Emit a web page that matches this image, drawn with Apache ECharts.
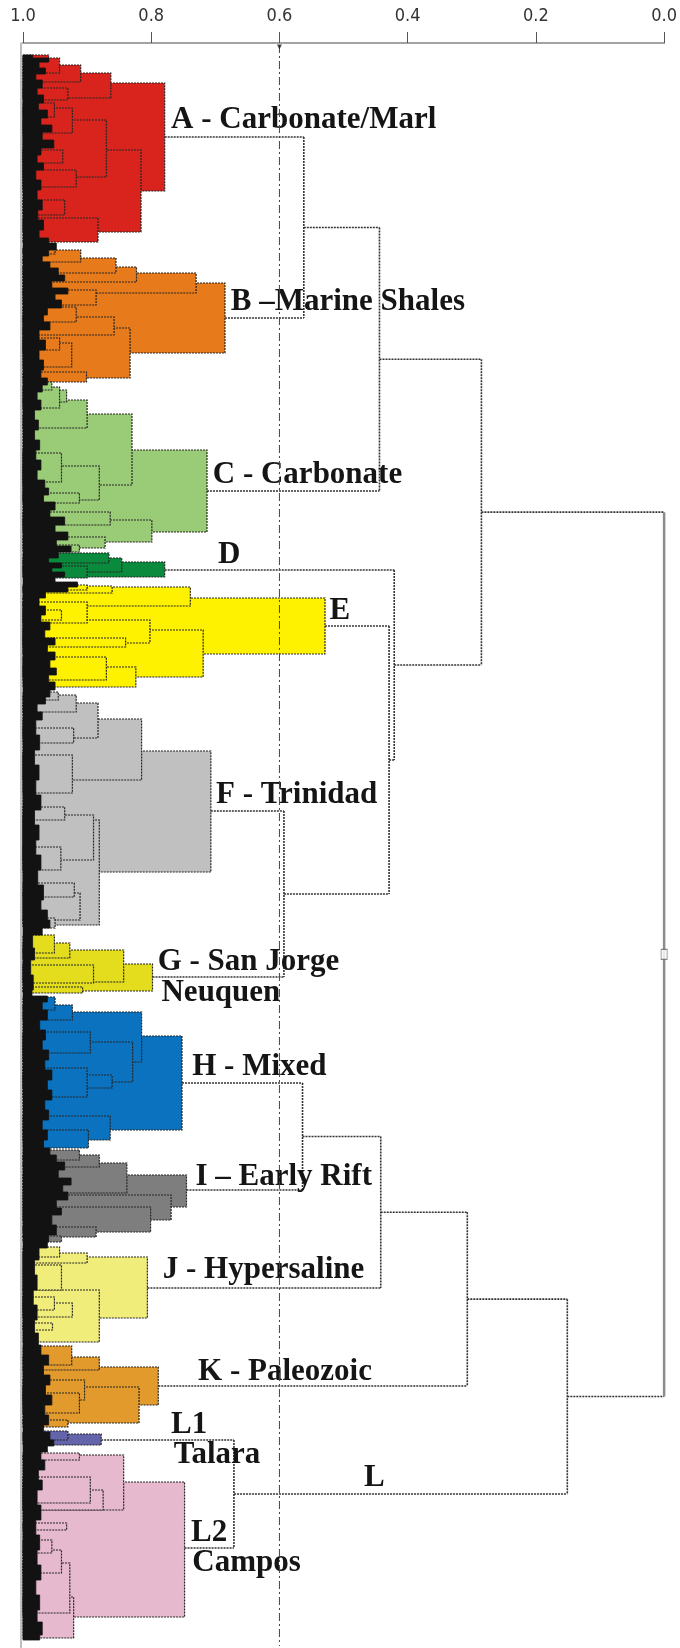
<!DOCTYPE html>
<html><head><meta charset="utf-8">
<script src="https://cdn.jsdelivr.net/npm/echarts@6/dist/echarts.min.js"></script>
<style>html,body{margin:0;padding:0;background:#fff}#c{width:680px;height:1648px}</style>
</head><body><div id="c"></div>
<script>
// ---- axis ----
const tickLabels = ['0.0', '0.2', '0.4', '0.6', '0.8', '1.0'];
const cutLevel = 0.6;

// ---- major clusters: name, colour, leaf-order position of the node, similarity of the node ----
const clusterNames = ['A', 'B', 'C', 'D', 'E', 'F', 'G', 'H', 'I', 'J', 'K', 'L1', 'L2'];
const clusterColors = ['#D8241C', '#E77A1A', '#9ACB77', '#0A8A3C', '#FFF200', '#C0C0C0', '#E3DD1E',
                       '#0B72C0', '#7E7E7E', '#F1ED7B', '#E39A2D', '#6464AA', '#E7B9CF'];
const clusterCenters = [137, 318, 491, 570, 626, 811, 977, 1083, 1190, 1288, 1386, 1440, 1548];
const clusterHeights = [0.779, 0.685, 0.713, 0.779, 0.529, 0.707, 0.798, 0.752, 0.745, 0.806, 0.789, 0.878, 0.748];

// ---- upper tree merges ----
const mergeNames  = ['AB', 'ABC', 'FG', 'EFG', 'DEFG', 'ABCDEFG', 'HI', 'HIJ', 'HIJK', 'L', 'HIJKL', 'root'];
const mergeLeft   = ['A', 'AB', 'F', 'E', 'D', 'ABC', 'H', 'HI', 'HIJ', 'L1', 'HIJK', 'ABCDEFG'];
const mergeRight  = ['B', 'C', 'G', 'FG', 'EFG', 'DEFG', 'I', 'J', 'K', 'L2', 'L', 'HIJKL'];
const mergeHeights = [0.562, 0.444, 0.593, 0.429, 0.421, 0.285, 0.564, 0.442, 0.307, 0.671, 0.151, 0.0];

// ---- sub-nodes inside each cluster: [first leaf pos, last leaf pos, similarity] ----
const subA = [[83,191,0.779],[73,98,0.863],[65,82,0.910],[58,73,0.943],[150,232,0.816],[120,177,0.870],[108,133,0.923],[218,242,0.883],[170,187,0.917],[150,163,0.938],[103,117,0.951],[200,215,0.935],[88,100,0.930],[55,62,0.960]];
const subB = [[283,353,0.685],[273,293,0.730],[267,282,0.823],[258,273,0.855],[250,262,0.910],[290,305,0.886],[328,378,0.833],[317,335,0.858],[343,367,0.924],[372,382,0.901],[307,322,0.917],[338,350,0.943],[247,254,0.950]];
const subC = [[450,532,0.713],[414,485,0.830],[400,428,0.900],[466,500,0.881],[387,408,0.943],[453,482,0.940],[520,542,0.799],[512,525,0.864],[537,548,0.872],[545,552,0.912],[390,402,0.932],[493,503,0.912],[382,390,0.955]];
const subD = [[562,577,0.779],[558,572,0.846],[553,563,0.866],[566,578,0.900]];
const subE = [[598,654,0.529],[587,606,0.739],[586,593,0.861],[630,677,0.719],[620,643,0.802],[638,647,0.840],[667,687,0.824],[657,680,0.870],[602,623,0.900],[610,620,0.940],[585,590,0.900]];
const subF = [[751,872,0.707],[719,780,0.815],[820,925,0.881],[703,738,0.883],[755,793,0.923],[695,712,0.917],[728,743,0.921],[815,860,0.890],[807,820,0.935],[847,870,0.941],[893,920,0.911],[883,897,0.920],[918,928,0.950],[692,700,0.945]];
const subG = [[964,991,0.798],[950,982,0.843],[987,993,0.907],[943,958,0.927],[965,983,0.890],[935,953,0.951]];
const subH = [[1036,1130,0.752],[1012,1062,0.815],[1042,1082,0.829],[1032,1053,0.895],[1005,1020,0.923],[1075,1088,0.861],[1116,1140,0.864],[1130,1148,0.898],[1068,1097,0.900],[997,1010,0.950]];
const subI = [[1175,1207,0.745],[1195,1220,0.769],[1207,1232,0.801],[1163,1193,0.838],[1155,1167,0.881],[1227,1237,0.886],[1150,1160,0.912],[1236,1242,0.940]];
const subJ = [[1257,1318,0.806],[1253,1263,0.900],[1290,1342,0.881],[1303,1317,0.923],[1247,1257,0.943],[1297,1310,0.951],[1323,1330,0.954],[1265,1290,0.940]];
const subK = [[1367,1405,0.789],[1387,1423,0.819],[1357,1370,0.881],[1346,1365,0.924],[1380,1400,0.904],[1393,1413,0.912],[1420,1427,0.930]];
const subL1 = [[1434,1445,0.878],[1431,1440,0.930]];
const subL2 = [[1482,1617,0.748],[1455,1510,0.843],[1597,1638,0.921],[1453,1460,0.912],[1477,1503,0.895],[1523,1530,0.932],[1550,1573,0.940],[1563,1613,0.927],[1540,1553,0.955],[1490,1510,0.875]];

// ---- dense leaf band (right edge, stepped): [leaf pos, similarity] ----
const leafEdge = [[55,0.985],[58,0.960],[62,0.975],[68,0.965],[74,0.980],[80,0.970],[88,0.978],[95,0.968],[103,0.976],[110,0.962],[118,0.972],[125,0.955],[132,0.970],[140,0.952],[148,0.972],[155,0.978],[163,0.968],[170,0.980],[180,0.972],[190,0.978],[200,0.970],[210,0.977],[220,0.968],[230,0.975],[238,0.960],[243,0.948],[250,0.960],[256,0.970],[262,0.958],[268,0.945],[275,0.935],[281,0.955],[288,0.930],[294,0.950],[300,0.940],[308,0.962],[315,0.968],[322,0.958],[330,0.975],[340,0.965],[350,0.975],[360,0.968],[370,0.972],[378,0.962],[385,0.970],[392,0.978],[400,0.972],[410,0.982],[420,0.976],[430,0.982],[440,0.974],[450,0.980],[460,0.972],[470,0.978],[480,0.966],[488,0.960],[495,0.968],[502,0.950],[510,0.958],[517,0.935],[525,0.950],[532,0.930],[540,0.948],[546,0.925],[552,0.945],[558,0.960],[563,0.940],[568,0.955],[572,0.935],[577,0.950],[582,0.915],[587,0.930],[592,0.965],[598,0.975],[606,0.965],[615,0.972],[622,0.958],[630,0.966],[638,0.950],[645,0.962],[652,0.950],[660,0.958],[668,0.948],[675,0.960],[682,0.950],[690,0.958],[697,0.965],[704,0.978],[712,0.970],[720,0.980],[735,0.974],[750,0.982],[765,0.975],[780,0.980],[795,0.972],[810,0.982],[825,0.975],[840,0.980],[855,0.972],[870,0.977],[885,0.968],[900,0.972],[910,0.962],[920,0.958],[928,0.970],[935,0.985],[948,0.982],[960,0.988],[975,0.984],[990,0.986],[996,0.962],[1002,0.970],[1010,0.962],[1020,0.974],[1030,0.965],[1040,0.970],[1050,0.960],[1060,0.966],[1070,0.955],[1080,0.962],[1090,0.955],[1100,0.966],[1110,0.960],[1120,0.970],[1130,0.962],[1140,0.968],[1148,0.958],[1155,0.948],[1162,0.935],[1170,0.945],[1178,0.925],[1185,0.938],[1192,0.930],[1200,0.948],[1208,0.940],[1215,0.955],[1225,0.948],[1235,0.960],[1242,0.962],[1248,0.975],[1260,0.982],[1275,0.978],[1290,0.984],[1305,0.978],[1320,0.982],[1333,0.976],[1345,0.972],[1355,0.960],[1365,0.968],[1375,0.958],[1385,0.965],[1395,0.955],[1405,0.966],[1415,0.960],[1425,0.968],[1432,0.958],[1440,0.952],[1446,0.962],[1452,0.972],[1460,0.966],[1470,0.976],[1480,0.970],[1490,0.978],[1505,0.972],[1520,0.980],[1535,0.974],[1550,0.978],[1565,0.972],[1580,0.980],[1595,0.974],[1610,0.978],[1622,0.970],[1635,0.974],[1640,0.985]];

// ---- labels ----
const labelTexts = ['A - Carbonate/Marl', 'B \u2013Marine Shales', 'C - Carbonate', 'D', 'E', 'F - Trinidad',
  'G - San Jorge', 'Neuquen', 'H - Mixed', 'I \u2013 Early Rift', 'J - Hypersaline', 'K - Paleozoic',
  'L1', 'Talara', 'L2', 'Campos', 'L'];
const labelX = [0.769, 0.676, 0.704, 0.696, 0.522, 0.699, 0.790, 0.784, 0.736, 0.731, 0.782, 0.727, 0.769, 0.765, 0.738, 0.736, 0.468];
const labelY = [120, 302, 475, 555, 611, 795, 962, 993, 1067, 1177, 1270, 1372, 1425, 1455, 1533, 1563, 1478];

// ================= build =================
const clusterSubs = [subA, subB, subC, subD, subE, subF, subG, subH, subI, subJ, subK, subL1, subL2];
const rectData = [];
clusterSubs.forEach((subs, ci) => subs.forEach(r => rectData.push([r[0], r[1], r[2], ci])));
rectData.sort((a, b) => a[2] - b[2]);

const nodes = {};
clusterNames.forEach((n, i) => { nodes[n] = { c: clusterCenters[i], h: clusterHeights[i] }; });
const segs = [];
mergeNames.forEach((n, i) => {
  const L = nodes[mergeLeft[i]], R = nodes[mergeRight[i]], h = mergeHeights[i];
  const c = (L.c + R.c) / 2;
  segs.push([L.h, L.c, h, L.c, 0], [R.h, R.c, h, R.c, 0], [h, L.c, h, R.c, n === 'root' ? 1 : 0]);
  nodes[n] = { c: c, h: h };
});
const rootPos = nodes['root'].c;

const labelData = labelTexts.map((t, i) => [labelX[i], labelY[i], i]);

const chart = echarts.init(document.getElementById('c'));
chart.setOption({
  animation: false,
  backgroundColor: '#fff',
  grid: { left: 23, right: 9, top: 43, bottom: 0 },
  xAxis: {
    type: 'value', position: 'top', min: 0, max: 1, interval: 0.2, inverse: true,
    axisLine: { onZero: false, lineStyle: { color: '#a3a3a3', width: 2 } },
    axisTick: { length: 11, lineStyle: { color: '#555', width: 1 } },
    axisLabel: { margin: 18, color: '#333', fontSize: 18,
      fontFamily: "'Liberation Sans Narrow', 'DejaVu Sans Condensed', sans-serif",
      formatter: v => tickLabels[Math.round(v * 5)] },
    splitLine: { show: false }
  },
  yAxis: {
    type: 'value', min: 43, max: 1648, inverse: true, offset: 2,
    axisLine: { show: true, onZero: false, lineStyle: { color: '#aaa', width: 1.5 } },
    axisTick: { show: false }, axisLabel: { show: false }, splitLine: { show: false }
  },
  series: [
    {
      type: 'custom', z: 2, clip: false, data: rectData,
      renderItem: (params, api) => {
        const p1 = api.coord([1, api.value(0)]);
        const p2 = api.coord([api.value(2), api.value(1)]);
        return { type: 'rect',
          shape: { x: p1[0], y: p1[1], width: p2[0] - p1[0], height: p2[1] - p1[1] },
          style: { fill: clusterColors[api.value(3)], stroke: '#262626', lineWidth: 1.2, lineDash: [2, 1] } };
      }
    },
    {
      type: 'custom', z: 3, clip: false, data: [[1, 55]],
      renderItem: (params, api) => {
        const pts = [api.coord([1, leafEdge[0][0]])];
        for (let i = 0; i < leafEdge.length; i++) {
          const cur = leafEdge[i];
          const nextY = i < leafEdge.length - 1 ? leafEdge[i + 1][0] : cur[0];
          pts.push(api.coord([cur[1], cur[0]]));
          pts.push(api.coord([cur[1], nextY]));
        }
        pts.push(api.coord([1, leafEdge[leafEdge.length - 1][0]]));
        return { type: 'polygon', shape: { points: pts },
          style: { fill: '#121212', stroke: '#121212', lineWidth: 0.8 } };
      }
    },
    {
      type: 'custom', z: 4, clip: false, data: segs,
      renderItem: (params, api) => {
        const p1 = api.coord([api.value(0), api.value(1)]);
        const p2 = api.coord([api.value(2), api.value(3)]);
        const root = api.value(4) === 1;
        return { type: 'line',
          shape: { x1: p1[0], y1: p1[1], x2: p2[0], y2: p2[1] },
          style: root ? { stroke: '#8c8c8c', lineWidth: 2.5 }
                      : { stroke: '#333', lineWidth: 1.6, lineDash: [2, 1] } };
      }
    },
    {
      type: 'custom', z: 5, clip: false, data: labelData,
      renderItem: (params, api) => {
        const p = api.coord([api.value(0), api.value(1)]);
        return { type: 'text', x: p[0], y: p[1],
          style: { text: labelTexts[api.value(2)], fill: '#151515',
            font: "bold 31px 'Liberation Serif', 'DejaVu Serif', serif",
            align: 'left', verticalAlign: 'middle' } };
      }
    },
    {
      type: 'line', z: 6, symbol: 'none', silent: true,
      data: [[cutLevel, 45], [cutLevel, 1646]],
      lineStyle: { color: '#444', width: 1, type: [8, 3, 2, 3] }
    },
    {
      type: 'scatter', z: 7, silent: true,
      data: [[cutLevel, 47]], symbol: 'triangle', symbolRotate: 180, symbolSize: 5,
      itemStyle: { color: '#222' }
    },
    {
      type: 'scatter', z: 7, silent: true,
      data: [[0, rootPos]], symbol: 'rect', symbolSize: [6, 10],
      itemStyle: { color: '#fff', borderColor: '#666', borderWidth: 1 }
    }
  ]
});
</script>
</body></html>
